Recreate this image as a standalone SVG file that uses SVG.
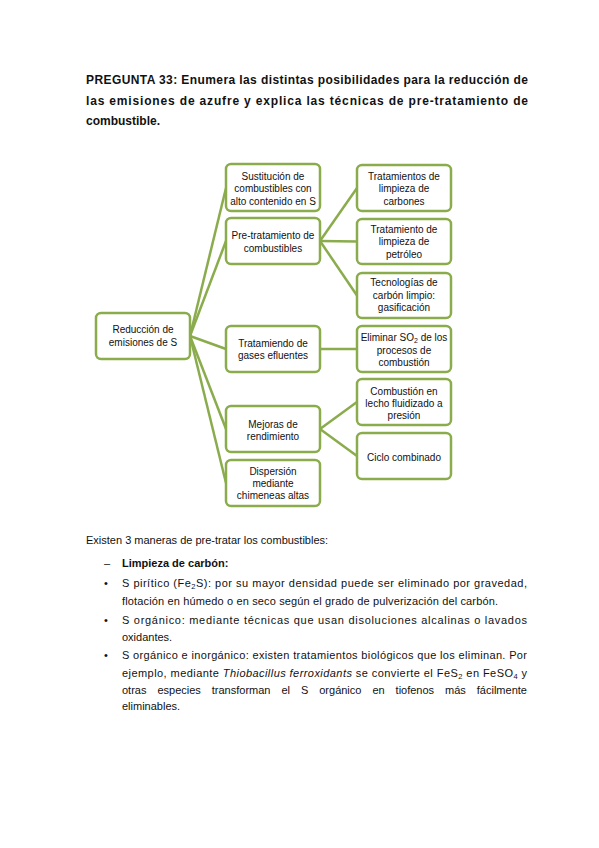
<svg xmlns="http://www.w3.org/2000/svg" width="599" height="848" viewBox="0 0 599 848">
<style>
.bg{fill:#ffffff}
.box{fill:#ffffff;stroke:#8aac4c;stroke-width:2.5}
.con{stroke:#8aac4c;stroke-width:2.5;fill:none}
.bt{font-family:"Liberation Sans",Arial,sans-serif;font-size:10px;fill:#111;text-anchor:middle}
.ti{font-family:"Liberation Sans",Arial,sans-serif;font-size:12px;font-weight:bold;fill:#111}
.tx{font-family:"Liberation Sans",Arial,sans-serif;font-size:11px;fill:#111}
.b{font-weight:bold}
</style>
<rect class="bg" x="0" y="0" width="599" height="848"/>

<g id="title">
<text class="ti" x="86" y="84" textLength="442" lengthAdjust="spacing">PREGUNTA 33: Enumera las distintas posibilidades  para la reducción de</text>
<text class="ti" x="86" y="105" textLength="442" lengthAdjust="spacing">las emisiones de azufre y explica las técnicas de pre-tratamiento de</text>
<text class="ti" x="86" y="125">combustible.</text>
</g>

<g id="connectors">
<line class="con" x1="190" y1="336" x2="226" y2="188"/>
<line class="con" x1="190" y1="336" x2="226" y2="241"/>
<line class="con" x1="190" y1="336" x2="226" y2="349"/>
<line class="con" x1="190" y1="336" x2="226" y2="429"/>
<line class="con" x1="190" y1="336" x2="226" y2="483"/>
<line class="con" x1="320" y1="241" x2="357" y2="188"/>
<line class="con" x1="320" y1="241" x2="357" y2="241.5"/>
<line class="con" x1="320" y1="241" x2="357" y2="295.5"/>
<line class="con" x1="320" y1="349" x2="357" y2="349"/>
<line class="con" x1="320" y1="429" x2="357" y2="402"/>
<line class="con" x1="320" y1="429" x2="357" y2="456"/>
</g>

<g id="root">
<rect class="box" x="96" y="313" width="94" height="46" rx="5"/>
<text class="bt" x="143" y="332.5">Reducción de</text>
<text class="bt" x="143" y="345.5">emisiones de S</text>
</g>

<g id="sustitucion">
<rect class="box" x="226" y="164" width="94" height="47" rx="5"/>
<text class="bt" x="273" y="179.5">Sustitución de</text>
<text class="bt" x="273" y="192">combustibles con</text>
<text class="bt" x="273" y="204.5">alto contenido en S</text>
</g>

<g id="pretratamiento">
<rect class="box" x="226" y="218" width="94" height="46" rx="5"/>
<text class="bt" x="273" y="238.5">Pre-tratamiento de</text>
<text class="bt" x="273" y="251.5">combustibles</text>
</g>

<g id="gases">
<rect class="box" x="226" y="326" width="94" height="46" rx="5"/>
<text class="bt" x="273" y="346.5">Tratamiendo de</text>
<text class="bt" x="273" y="358.5">gases efluentes</text>
</g>

<g id="mejoras">
<rect class="box" x="226" y="406" width="94" height="46" rx="5"/>
<text class="bt" x="273" y="427.5">Mejoras de</text>
<text class="bt" x="273" y="439.5">rendimiento</text>
</g>

<g id="dispersion">
<rect class="box" x="226" y="460" width="94" height="46" rx="5"/>
<text class="bt" x="273" y="474.5">Dispersión</text>
<text class="bt" x="273" y="486.5">mediante</text>
<text class="bt" x="273" y="498.5">chimeneas altas</text>
</g>

<g id="carbones">
<rect class="box" x="357" y="165" width="94" height="46" rx="5"/>
<text class="bt" x="404" y="179.5">Tratamientos de</text>
<text class="bt" x="404" y="192">limpieza de</text>
<text class="bt" x="404" y="204.5">carbones</text>
</g>

<g id="petroleo">
<rect class="box" x="357" y="219" width="94" height="45" rx="5"/>
<text class="bt" x="404" y="232.5">Tratamiento de</text>
<text class="bt" x="404" y="245">limpieza de</text>
<text class="bt" x="404" y="257.5">petróleo</text>
</g>

<g id="gasificacion">
<rect class="box" x="357" y="273" width="94" height="45" rx="5"/>
<text class="bt" x="404" y="286">Tecnologías de</text>
<text class="bt" x="404" y="298.5">carbón limpio:</text>
<text class="bt" x="404" y="311">gasificación</text>
</g>

<g id="eliminar">
<rect class="box" x="357" y="326" width="94" height="46" rx="5"/>
<text class="bt" x="404" y="340.5">Eliminar SO<tspan font-size="7" dy="2">2</tspan><tspan dy="-2"> de los</tspan></text>
<text class="bt" x="404" y="353.5">procesos de</text>
<text class="bt" x="404" y="366">combustión</text>
</g>

<g id="lecho">
<rect class="box" x="357" y="379" width="94" height="46" rx="5"/>
<text class="bt" x="404" y="394.5">Combustión en</text>
<text class="bt" x="404" y="406.5">lecho fluidizado a</text>
<text class="bt" x="404" y="418.5">presión</text>
</g>

<g id="ciclo">
<rect class="box" x="357" y="433" width="94" height="46" rx="5"/>
<text class="bt" x="404" y="460.5">Ciclo combinado</text>
</g>

<g id="body">
<text class="tx" x="86" y="544">Existen 3 maneras de pre-tratar los combustibles:</text>
<text class="tx" x="104" y="567">–</text>
<text class="tx b" x="122" y="567">Limpieza de carbón:</text>
<text class="tx" x="104" y="587">•</text>
<text class="tx" x="122" y="587" textLength="405" lengthAdjust="spacing">S pirítico (Fe<tspan font-size="7.5" dy="2">2</tspan><tspan dy="-2">S): por su mayor densidad puede ser eliminado por gravedad,</tspan></text>
<text class="tx" x="122" y="605" textLength="376" lengthAdjust="spacing">flotación en húmedo o en seco según el grado de pulverización del carbón.</text>
<text class="tx" x="104" y="624">•</text>
<text class="tx" x="122" y="624" textLength="405" lengthAdjust="spacing">S orgánico: mediante técnicas que usan disoluciones alcalinas o lavados</text>
<text class="tx" x="122" y="641">oxidantes.</text>
<text class="tx" x="104" y="659">•</text>
<text class="tx" x="122" y="659" textLength="405" lengthAdjust="spacing">S orgánico e inorgánico: existen tratamientos biológicos que los eliminan. Por</text>
<text class="tx" x="122" y="677" textLength="405" lengthAdjust="spacing">ejemplo, mediante <tspan font-style="italic">Thiobacillus ferroxidants</tspan> se convierte el FeS<tspan font-size="7.5" dy="2">2</tspan><tspan dy="-2"> en FeSO</tspan><tspan font-size="7.5" dy="2">4</tspan><tspan dy="-2"> y</tspan></text>
<text class="tx" x="122" y="694" word-spacing="7.9">otras especies transforman el S orgánico en tiofenos más fácilmente</text>
<text class="tx" x="122" y="710">eliminables.</text>
</g>
</svg>
